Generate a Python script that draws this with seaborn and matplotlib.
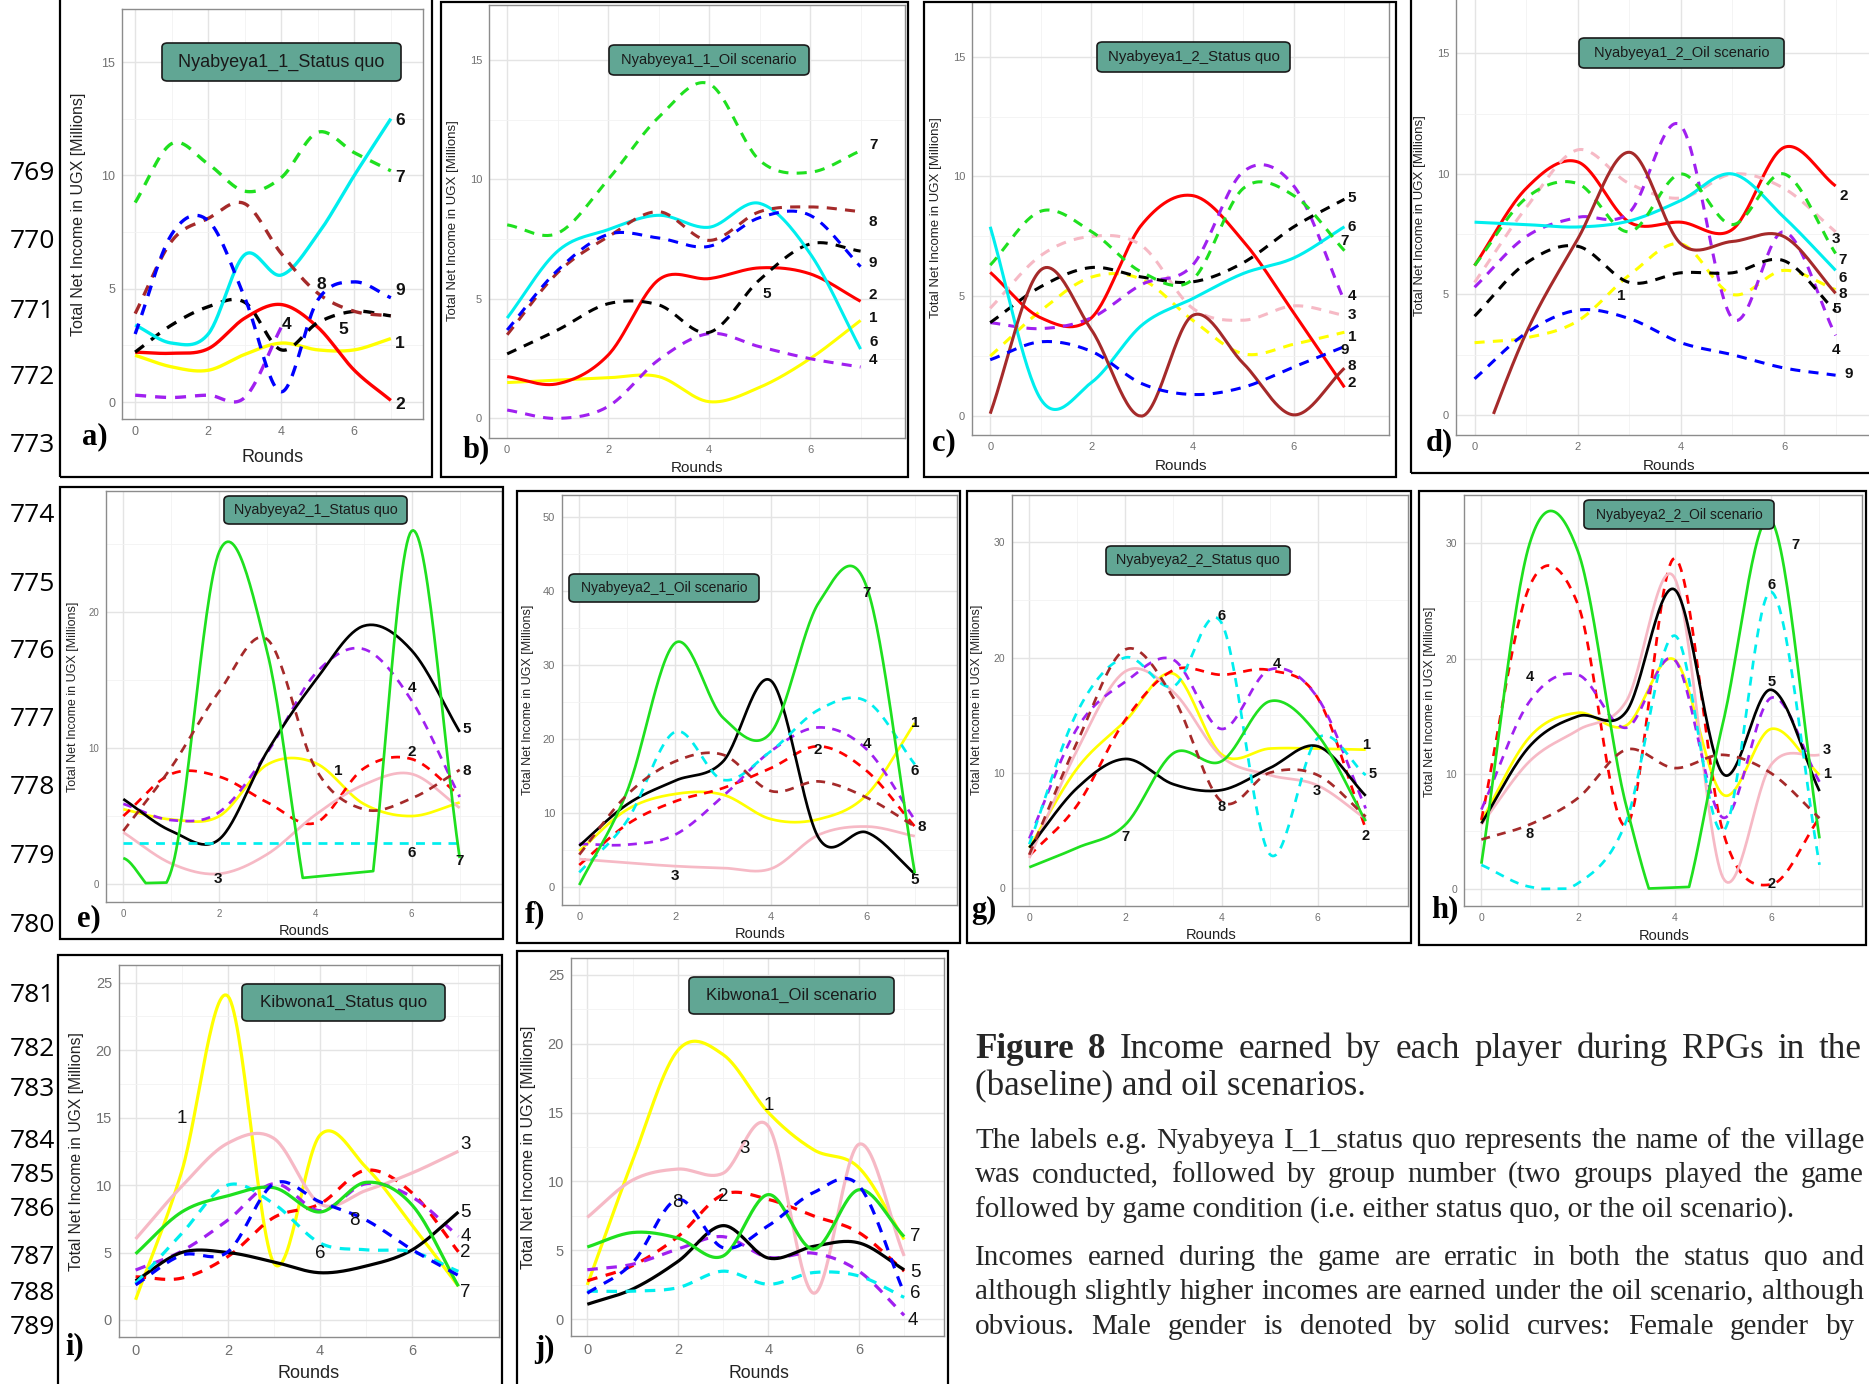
import numpy as np
import pandas as pd
import matplotlib
matplotlib.use("Agg")
import matplotlib.pyplot as plt
from matplotlib.patches import Rectangle, FancyBboxPatch
from matplotlib.ticker import MultipleLocator
import seaborn as sns

W, H = 1869, 1384
ROUNDS = np.arange(8)

# total net income (millions UGX) per player, rounds 0..7
a_vals = {
    1: [2.06, 1.55, 1.4, 2.1, 2.6, 2.3, 2.3, 2.8],
    2: [2.2, 2.15, 2.35, 3.7, 4.3, 3.3, 1.4, 0.07],
    4: [0.3, 0.2, 0.3, 0.2, 3.3, np.nan, np.nan, np.nan],
    5: [2.2, 3.4, 4.2, 4.4, 2.3, 3.5, 4.0, 3.8],
    6: [3.4, 2.6, 3.0, 6.5, 5.6, 7.4, 10.0, 12.5],
    7: [8.8, 11.4, 10.5, 9.3, 9.9, 11.9, 11.0, 10.2],
    8: [3.9, 7.1, 8.1, 8.75, 6.55, 4.8, 4.0, 3.8],
    9: [3.0, 7.4, 8.0, 4.6, 0.45, 4.5, 5.3, 4.6],
}
b_vals = {
    1: [1.5, 1.6, 1.7, 1.75, 0.7, 1.3, 2.5, 4.1],
    2: [1.75, 1.45, 2.65, 5.8, 5.85, 6.3, 6.05, 4.9],
    4: [0.35, 0.0, 0.5, 2.45, 3.55, 3.0, 2.5, 2.15],
    5: [2.7, 3.7, 4.8, 4.75, 3.6, 5.8, 7.3, 7.0],
    6: [4.2, 7.0, 7.9, 8.5, 8.0, 9.0, 6.9, 2.9],
    7: [8.1, 7.75, 10.0, 12.6, 14.0, 10.8, 10.3, 11.2],
    8: [3.5, 6.1, 7.6, 8.65, 7.45, 8.65, 8.85, 8.65],
    9: [3.7, 6.2, 7.7, 7.55, 7.2, 8.4, 8.5, 6.35],
}
c_vals = {
    1: [2.5, 4.4, 5.8, 5.7, 4.0, 2.6, 3.0, 3.5],
    2: [6.0, 4.1, 4.1, 8.0, 9.2, 7.3, 4.3, 1.2],
    3: [4.5, 6.7, 7.5, 7.1, 4.5, 4.0, 4.6, 4.2],
    4: [3.9, 3.65, 4.1, 5.5, 6.3, 10.2, 9.6, 4.8],
    5: [3.9, 5.4, 6.2, 5.8, 5.6, 6.4, 7.9, 9.05],
    6: [7.9, 0.7, 1.4, 3.8, 4.9, 5.95, 6.6, 7.9],
    7: [6.3, 8.55, 7.7, 6.0, 5.7, 9.5, 9.2, 6.9],
    8: [0.1, 6.1, 3.6, 0.0, 4.2, 2.2, 0.05, 2.0],
    9: [2.35, 3.1, 2.7, 1.35, 0.9, 1.2, 2.05, 2.9],
}
d_vals = {
    1: [3.0, 3.2, 3.9, 5.8, 7.1, 5.0, 6.0, 5.2],
    2: [6.2, 9.4, 10.5, 8.0, 8.0, 7.7, 11.1, 9.5],
    3: [5.5, 8.6, 11.0, 9.6, 9.0, 10.0, 9.4, 7.6],
    4: [5.3, 7.4, 8.2, 8.4, 12.0, 4.0, 7.6, 3.3],
    5: [4.1, 6.3, 7.0, 5.5, 5.9, 5.9, 6.4, 4.3],
    6: [8.0, 7.9, 7.8, 8.05, 8.9, 10.0, 8.2, 6.0],
    7: [6.2, 9.0, 9.6, 7.6, 10.0, 7.9, 10.0, 6.7],
    8: [-2.0, 3.4, 7.3, 10.9, 7.1, 7.2, 7.4, 5.05],
    9: [1.5, 3.4, 4.35, 4.0, 3.0, 2.5, 1.95, 1.65],
}
e_vals = {
    1: [5.5, 4.75, 5.0, 8.8, 8.9, 5.9, 5.0, 6.0],
    2: [5.0, 8.1, 7.9, 6.0, 4.5, 8.5, 9.2, 6.5],
    3: [3.8, 1.5, 0.75, 2.2, 5.1, 7.3, 8.1, 5.6],
    4: [5.9, 4.7, 5.3, 9.7, 15.5, 17.3, 13.5, 6.4],
    5: [6.25, 3.9, 3.3, 9.8, 15.0, 19.0, 17.2, 11.2],
    6: [3.05, 3.05, 3.05, 3.05, 3.05, 3.05, 3.05, 3.05],
    7: [1.9, 1.0, 24.5, 17.0, -4.0, -4.0, 26.0, 1.9],
    8: [3.9, 8.6, 14.2, 18.0, 8.5, 5.5, 6.3, 8.4],
}
f_vals = {
    1: [4.9, 10.5, 12.6, 12.5, 9.2, 9.2, 12.5, 22.2],
    2: [3.0, 8.5, 11.6, 13.4, 16.1, 19.05, 15.7, 8.2],
    3: [3.8, 3.3, 2.85, 2.6, 2.5, 7.1, 8.2, 6.9],
    4: [5.85, 5.75, 7.1, 12.3, 18.4, 21.6, 18.6, 9.1],
    5: [5.6, 11.2, 14.4, 17.0, 27.9, 6.6, 7.4, 1.8],
    6: [2.0, 9.0, 21.0, 14.5, 18.4, 24.0, 25.1, 16.6],
    7: [0.3, 13.0, 33.0, 22.9, 20.9, 38.5, 40.5, 1.9],
    8: [4.4, 12.5, 17.0, 17.9, 13.0, 14.3, 12.1, 8.2],
}
g_vals = {
    1: [3.5, 10.4, 14.5, 18.6, 11.6, 12.1, 12.1, 12.0],
    2: [2.8, 7.2, 14.6, 18.9, 18.5, 18.9, 16.5, 5.15],
    3: [2.6, 12.0, 18.8, 17.0, 11.4, 9.8, 8.9, 6.0],
    4: [4.3, 13.9, 17.9, 19.8, 13.8, 18.95, 16.5, 6.9],
    5: [3.5, 8.7, 11.2, 9.0, 8.5, 10.4, 12.3, 8.0],
    6: [3.8, 15.3, 20.0, 17.5, 23.0, 2.95, 13.0, 9.8],
    7: [1.8, 3.5, 5.5, 11.7, 11.0, 16.2, 13.3, 5.8],
    8: [2.9, 12.7, 20.7, 16.5, 7.5, 10.0, 9.8, 6.2],
}
h_vals = {
    1: [5.9, 13.2, 15.3, 14.2, 19.9, 8.2, 13.9, 9.9],
    2: [6.0, 26.3, 24.7, 5.5, 28.7, 5.0, 0.4, 6.2],
    3: [5.6, 11.1, 13.8, 16.3, 27.0, 1.0, 10.8, 11.65],
    4: [6.9, 16.3, 18.6, 14.0, 19.9, 6.2, 16.6, 9.3],
    5: [5.7, 12.4, 15.0, 15.4, 26.0, 10.0, 17.3, 8.5],
    6: [2.1, 0.2, 0.5, 5.9, 22.0, 5.0, 25.8, 2.1],
    7: [2.2, 30.0, 29.3, 7.2, -3.0, 14.4, 32.0, 4.4],
    8: [4.3, 5.6, 7.9, 12.1, 10.5, 11.65, 10.05, 6.15],
}
i_vals = {
    1: [1.5, 11.0, 24.0, 4.2, 13.7, 11.3, 7.0, 2.5],
    2: [3.2, 3.1, 4.7, 7.6, 8.6, 11.1, 9.4, 5.05],
    3: [6.0, 9.9, 13.1, 13.45, 8.6, 9.6, 10.9, 12.5],
    4: [3.7, 5.1, 7.4, 10.1, 8.1, 10.1, 9.1, 6.2],
    5: [2.9, 5.0, 5.0, 4.3, 3.5, 4.0, 5.2, 8.0],
    6: [2.7, 6.4, 10.0, 8.6, 5.7, 5.2, 5.05, 3.6],
    7: [4.9, 8.0, 9.2, 9.8, 8.0, 10.2, 8.5, 2.5],
    8: [2.6, 4.8, 5.05, 10.1, 8.75, 7.4, 5.2, 3.3],
}
j_vals = {
    1: [2.5, 11.5, 19.5, 19.2, 15.0, 12.3, 11.0, 5.8],
    2: [2.8, 3.9, 6.0, 9.05, 8.7, 7.5, 6.3, 3.5],
    3: [7.4, 10.1, 10.9, 10.6, 14.0, 1.9, 12.7, 4.6],
    4: [3.6, 4.0, 5.1, 6.0, 4.5, 4.8, 3.5, 0.3],
    5: [1.1, 2.2, 4.2, 6.8, 4.45, 5.3, 5.55, 3.6],
    6: [2.05, 2.05, 2.3, 3.5, 2.55, 3.4, 3.15, 1.6],
    7: [5.25, 6.3, 5.9, 4.6, 9.05, 5.1, 9.4, 6.0],
    8: [1.9, 4.1, 8.7, 5.2, 6.8, 9.2, 9.7, 1.9],
}

# player number labels (player, round, income)
a_lab = [(6, 7.25, 12.4), (7, 7.25, 9.9), (9, 7.25, 4.9), (8, 5.1, 5.2), (5, 5.7, 3.2),
         (4, 4.15, 3.4), (1, 7.25, 2.6), (2, 7.25, -0.1)]
b_lab = [(7, 7.25, 11.45), (8, 7.25, 8.2), (9, 7.25, 6.5), (5, 5.15, 5.2), (2, 7.25, 5.15),
         (1, 7.25, 4.2), (6, 7.25, 3.2), (4, 7.25, 2.45)]
c_lab = [(5, 7.15, 9.1), (6, 7.15, 7.9), (7, 7.0, 7.3), (4, 7.15, 5.0), (3, 7.15, 4.2),
         (1, 7.15, 3.3), (9, 7.0, 2.75), (8, 7.15, 2.1), (2, 7.15, 1.4)]
d_lab = [(2, 7.15, 9.1), (3, 7.0, 7.3), (7, 7.13, 6.45), (6, 7.13, 5.7), (8, 7.13, 5.0),
         (5, 7.03, 4.4), (4, 7.0, 2.7), (9, 7.25, 1.7), (1, 2.85, 4.95)]
e_lab = [(4, 6.0, 14.4), (5, 7.15, 11.4), (2, 6.0, 9.7), (1, 4.47, 8.3), (8, 7.15, 8.3),
         (6, 6.0, 2.3), (7, 7.0, 1.7), (3, 1.97, 0.35)]
f_lab = [(7, 6.0, 39.8), (1, 7.0, 22.2), (2, 4.98, 18.6), (4, 6.0, 19.3), (6, 7.0, 15.7),
         (8, 7.15, 8.2), (5, 7.0, 1.0), (3, 2.0, 1.5)]
g_lab = [(6, 4.0, 23.6), (4, 5.15, 19.4), (1, 7.0, 12.4), (5, 7.15, 9.9), (3, 5.99, 8.45),
         (8, 4.0, 7.0), (7, 2.0, 4.4), (2, 7.0, 4.5)]
h_lab = [(7, 6.5, 29.9), (6, 6.0, 26.4), (4, 1.0, 18.4), (5, 6.0, 18.0), (3, 7.15, 12.1),
         (1, 7.15, 10.0), (8, 1.0, 4.8), (2, 6.0, 0.4)]
i_lab = [(1, 1.0, 14.9), (3, 7.15, 13.0), (8, 4.75, 7.4), (5, 7.15, 8.0), (6, 4.0, 4.9),
         (4, 7.15, 6.2), (2, 7.15, 5.0), (7, 7.15, 2.0)]
j_lab = [(1, 4.0, 15.5), (3, 3.47, 12.4), (2, 3.0, 8.9), (8, 2.0, 8.5), (7, 7.25, 6.0),
         (5, 7.25, 3.4), (6, 7.25, 1.9), (4, 7.2, -0.1)]

YEL, RED, PNK, PUR = "#ffff00", "#ff0000", "#f6b9c5", "#a020f0"
BLK, CYN, GRN, BRN, BLU = "#000000", "#00eeee", "#1fe01f", "#a52a2a", "#0000ff"
S, D = "-", "--"

sty_ab = {1: (YEL, S), 2: (RED, S), 4: (PUR, D), 5: (BLK, D), 6: (CYN, S),
          7: (GRN, D), 8: (BRN, D), 9: (BLU, D)}
sty_cd = {1: (YEL, D), 2: (RED, S), 3: (PNK, D), 4: (PUR, D), 5: (BLK, D), 6: (CYN, S),
          7: (GRN, D), 8: (BRN, S), 9: (BLU, D)}
sty_eh = {1: (YEL, S), 2: (RED, D), 3: (PNK, S), 4: (PUR, D), 5: (BLK, S), 6: (CYN, D),
          7: (GRN, S), 8: (BRN, D)}
sty_ij = {1: (YEL, S), 2: (RED, D), 3: (PNK, S), 4: (PUR, D), 5: (BLK, S), 6: (CYN, D),
          7: (GRN, S), 8: (BLU, D)}

# layout in reference pixels: axes (L, T, R, B), title box (L, T, R, B), frame, text spots
PANELS = [
    dict(tag="a)", vals=a_vals, lab=a_lab, sty=sty_ab, title="Nyabyeya1_1_Status quo",
         ax=(122, 9, 423, 419), ylim=(-0.75, 17.34), ystep=5, box=(162, 43, 401, 81), tfs=13,
         frame=(60, -5, 432, 477), letter=(82, 437), ylab=(78, 214, 11.5), xlab=(273, 458, 13),
         tick=9, lfs=12.5, bold=True, lw=2.4),
    dict(tag="b)", vals=b_vals, lab=b_lab, sty=sty_ab, title="Nyabyeya1_1_Oil scenario",
         ax=(489, 5, 905, 438), ylim=(-0.82, 17.3), ystep=5, box=(609, 45, 809, 75), tfs=10.5,
         frame=(441, 2, 908, 477), letter=(463, 450), ylab=(453, 221, 9.5), xlab=(697, 468, 11),
         tick=8, lfs=11, bold=True, lw=2.2),
    dict(tag="c)", vals=c_vals, lab=c_lab, sty=sty_cd, title="Nyabyeya1_2_Status quo",
         ax=(972, 2, 1389, 435), ylim=(-0.79, 17.28), ystep=5, box=(1097, 42, 1290, 72), tfs=10.8,
         frame=(924, 2, 1396, 477), letter=(932, 443), ylab=(936, 218, 9.5), xlab=(1181, 466, 11),
         tick=8, lfs=11, bold=True, lw=2.2),
    dict(tag="d)", vals=d_vals, lab=d_lab, sty=sty_cd, title="Nyabyeya1_2_Oil scenario",
         ax=(1456, -2, 1881, 435), ylim=(-0.83, 17.3), ystep=5, box=(1579, 38, 1784, 68), tfs=10.5,
         frame=(1411, -5, 1885, 473), letter=(1426, 443), ylab=(1420, 216, 9.5), xlab=(1669, 466, 11),
         tick=8, lfs=11, bold=True, lw=2.2),
    dict(tag="e)", vals=e_vals, lab=e_lab, sty=sty_eh, title="Nyabyeya2_1_Status quo",
         ax=(106, 491, 502, 902), ylim=(-1.33, 28.94), ystep=10, box=(224, 496, 407, 524), tfs=10.3,
         frame=(60, 487, 503, 939), letter=(77, 919), ylab=(73, 697, 9), xlab=(304, 931, 10.5),
         tick=7, lfs=11, bold=True, lw=1.95),
    dict(tag="f)", vals=f_vals, lab=f_lab, sty=sty_eh, title="Nyabyeya2_1_Oil scenario",
         ax=(562, 495, 957, 905), ylim=(-2.4, 53.0), ystep=10, box=(569, 574, 759, 602), tfs=10,
         frame=(517, 491, 960, 943), letter=(525, 915), ylab=(528, 700, 9), xlab=(760, 934, 10.5),
         tick=8, lfs=11, bold=True, lw=1.95),
    dict(tag="g)", vals=g_vals, lab=g_lab, sty=sty_eh, title="Nyabyeya2_2_Status quo",
         ax=(1012, 495, 1408, 906), ylim=(-1.56, 34.1), ystep=10, box=(1106, 546, 1290, 575), tfs=10.3,
         frame=(967, 491, 1411, 943), letter=(971, 910), ylab=(977, 700, 9), xlab=(1211, 935, 10.5),
         tick=7.5, lfs=10.5, bold=True, lw=1.95),
    dict(tag="h)", vals=h_vals, lab=h_lab, sty=sty_eh, title="Nyabyeya2_2_Oil scenario",
         ax=(1464, 495, 1862, 906), ylim=(-1.47, 34.2), ystep=10, box=(1584, 500, 1774, 529), tfs=10,
         frame=(1419, 491, 1866, 945), letter=(1431, 910), ylab=(1430, 702, 9), xlab=(1664, 936, 10.5),
         tick=7.5, lfs=10.5, bold=True, lw=1.95),
    dict(tag="i)", vals=i_vals, lab=i_lab, sty=sty_ij, title="Kibwona1_Status quo",
         ax=(119, 965, 499, 1337), ylim=(-1.26, 26.3), ystep=5, box=(242, 984, 445, 1021), tfs=12.3,
         frame=(58, 955, 502, 1395), letter=(65, 1347), ylab=(76, 1152, 11.3), xlab=(309, 1373, 13),
         tick=10.5, lfs=13.5, bold=False, lw=2.3),
    dict(tag="j)", vals=j_vals, lab=j_lab, sty=sty_ij, title="Kibwona1_Oil scenario",
         ax=(571, 958, 944, 1336), ylim=(-1.2, 26.2), ystep=5, box=(689, 977, 894, 1014), tfs=12,
         frame=(517, 951, 948, 1395), letter=(534, 1349), ylab=(529, 1147, 11.5), xlab=(759, 1373, 12.7),
         tick=10.5, lfs=13.5, bold=False, lw=2.3),
]

LINE_NUMS = [(769, 173), (770, 242), (771, 312), (772, 378), (773, 445),
             (774, 516), (775, 584), (776, 652), (777, 719), (778, 787), (779, 857), (780, 926),
             (781, 995), (782, 1050), (783, 1090), (784, 1142), (785, 1175), (786, 1210),
             (787, 1257), (788, 1293), (789, 1328)]

# caption lines as they show in the page crop: (text, y centre, right edge or None)
HEAD = [("Figure 8 Income earned by each player during RPGs in the", 1049, 1862),
        ("(baseline) and oil scenarios.", 1087, None)]
BODY = [
    ("The labels e.g. Nyabyeya I_1_status quo represents the name of the village", 1141, 1864),
    ("was conducted, followed by group number (two groups played the game", 1175, 1864),
    ("followed by game condition (i.e. either status quo, or the oil scenario).", 1210, None),
    ("Incomes earned during the game are erratic in both the status quo and", 1258, 1864),
    ("although slightly higher incomes are earned under the oil scenario, although", 1292, 1864),
    ("obvious. Male gender is denoted by solid curves: Female gender by", 1327, 1855),
]


def smooth(vals, n=30):
    # cardinal (Catmull-Rom) curve through the per-round values, like the R smoothed lines
    y = np.asarray(vals, dtype=float)
    x = ROUNDS.astype(float)
    ok = ~np.isnan(y)
    x, y = x[ok], y[ok]
    m = np.gradient(y, x)
    t = np.linspace(0, 1, n, endpoint=False)
    h00, h10 = 2 * t**3 - 3 * t**2 + 1, t**3 - 2 * t**2 + t
    h01, h11 = -2 * t**3 + 3 * t**2, t**3 - t**2
    xs, ys = [], []
    for k in range(len(x) - 1):
        xs.append(x[k] + t)
        ys.append(h00 * y[k] + h10 * m[k] + h01 * y[k + 1] + h11 * m[k + 1])
    xs.append([x[-1]])
    ys.append([y[-1]])
    return np.concatenate(xs), np.concatenate(ys)


def fx(px):
    return px / W


def fy(py):
    return 1 - py / H


sns.set_style("white")
plt.rcParams["font.family"] = ["Liberation Sans", "DejaVu Sans"]
plt.rcParams["lines.solid_capstyle"] = "butt"

fig = plt.figure(figsize=(W / 100, H / 100), dpi=100)
fig.patch.set_facecolor("white")

for p in PANELS:
    L, T, R, B = p["ax"]
    ax = fig.add_axes([fx(L), fy(B), (R - L) / W, (B - T) / H])
    ylo, yhi = p["ylim"]

    rows = []
    for player, vals in p["vals"].items():
        xs, ys = smooth(vals)
        keep = (ys >= 0) & (ys <= yhi)
        rows.append(pd.DataFrame({"round": xs[keep], "income": ys[keep], "player": player}))
    df = pd.concat(rows, ignore_index=True)

    palette = {k: v[0] for k, v in p["sty"].items()}
    dashes = {k: ("" if v[1] == S else (3.3, 2.7)) for k, v in p["sty"].items()}
    sns.lineplot(data=df, x="round", y="income", hue="player", style="player",
                 palette=palette, dashes=dashes, estimator=None, sort=False,
                 linewidth=p["lw"], legend=False, ax=ax)

    ax.set_xlim(-0.36, 7.88)
    ax.set_ylim(ylo, yhi)
    ax.xaxis.set_major_locator(MultipleLocator(2))
    ax.xaxis.set_minor_locator(MultipleLocator(1))
    ax.yaxis.set_major_locator(MultipleLocator(p["ystep"]))
    ax.yaxis.set_minor_locator(MultipleLocator(p["ystep"] / 2))
    ax.grid(True, which="major", color="#e4e4e4", lw=1.0)
    ax.grid(True, which="minor", color="#f2f2f2", lw=0.6)
    ax.set_axisbelow(True)
    for sp in ax.spines.values():
        sp.set_color("#8c8c8c")
        sp.set_linewidth(1.0)
    ax.tick_params(which="major", length=3, width=0.8, color="#666666",
                   labelsize=p["tick"], labelcolor="#707070", pad=2)
    ax.tick_params(which="minor", length=0)

    ax.set_xlabel("Rounds", fontsize=p["xlab"][2], color="#222222")
    ax.set_ylabel("Total Net Income in UGX [Millions]", fontsize=p["ylab"][2], color="#222222")
    ax.xaxis.set_label_coords((p["xlab"][0] - L) / (R - L), (B - p["xlab"][1]) / (B - T))
    ax.yaxis.set_label_coords((p["ylab"][0] - L) / (R - L), (B - p["ylab"][1]) / (B - T))
    ax.xaxis.label.set_va("center")
    ax.yaxis.label.set_va("center")

    for player, lx, ly in p["lab"]:
        ax.text(lx, ly, str(player), ha="center", va="center", fontsize=p["lfs"],
                fontweight="bold" if p["bold"] else "normal", color="#111111", clip_on=False)

    bl, bt, br, bb = p["box"]
    fig.add_artist(FancyBboxPatch((fx(bl), fy(bb)), (br - bl) / W, (bb - bt) / H,
                                  boxstyle="round,pad=0,rounding_size=0.003",
                                  transform=fig.transFigure, fc="#61a694", ec="#1a1a1a", lw=1.2,
                                  zorder=5))
    fig.text(fx((bl + br) / 2), fy((bt + bb) / 2), p["title"], ha="center", va="center",
             fontsize=p["tfs"], color="#1a1a1a", zorder=6)

    l0, t0, r0, b0 = p["frame"]
    fig.add_artist(Rectangle((fx(l0), fy(b0)), (r0 - l0) / W, (b0 - t0) / H, fill=False,
                             ec="black", lw=1.6, transform=fig.transFigure, zorder=6))
    fig.text(fx(p["letter"][0]), fy(p["letter"][1]), p["tag"], ha="left", va="center",
             fontsize=22, fontweight="bold", family=["Liberation Serif", "DejaVu Serif"],
             color="black", zorder=7)

for num, py in LINE_NUMS:
    fig.text(fx(55), fy(py), str(num), ha="right", va="center", fontsize=19,
             family=["Open Sans", "DejaVu Sans"], color="black")

# caption, font sizes fitted to the widths of the reference lines
renderer = fig.canvas.get_renderer()
SERIF = ["Liberation Serif", "DejaVu Serif"]


def width_of(txt, fs, weight="normal"):
    t = fig.text(0, 0, txt, fontsize=fs, family=SERIF, fontweight=weight)
    w = t.get_window_extent(renderer).width
    t.remove()
    return w


def caption_line(txt, py, fs, right, n_bold=0):
    x0 = 975
    words = txt.split(" ")
    if right is None:
        if n_bold:
            head = " ".join(words[:n_bold])
            fig.text(fx(x0), fy(py), head, fontsize=fs, family=SERIF, fontweight="bold",
                     va="center", ha="left")
            x0 += width_of(head + " ", fs, "bold")
            txt = " ".join(words[n_bold:])
        fig.text(fx(x0), fy(py), txt, fontsize=fs, family=SERIF, va="center", ha="left")
        return
    # justified line: spread the words between x0 and the right edge
    weights = ["bold" if k < n_bold else "normal" for k in range(len(words))]
    widths = [width_of(w, fs, wt) for w, wt in zip(words, weights)]
    gap = (right - x0 - sum(widths)) / (len(words) - 1)
    x = x0
    for w, wt, ww in zip(words, weights, widths):
        fig.text(fx(x), fy(py), w, fontsize=fs, family=SERIF, fontweight=wt,
                 va="center", ha="left")
        x += ww + gap


hfs = 20 * 391 / width_of(HEAD[1][0], 20)
bfs = 20 * 820 / width_of(BODY[2][0], 20)

caption_line(HEAD[0][0], HEAD[0][1], hfs, HEAD[0][2], n_bold=2)
caption_line(HEAD[1][0], HEAD[1][1], hfs, HEAD[1][2])
for line, py, right in BODY:
    caption_line(line, py, bfs, right)

fig.savefig("out.png", dpi=100, facecolor="white")
